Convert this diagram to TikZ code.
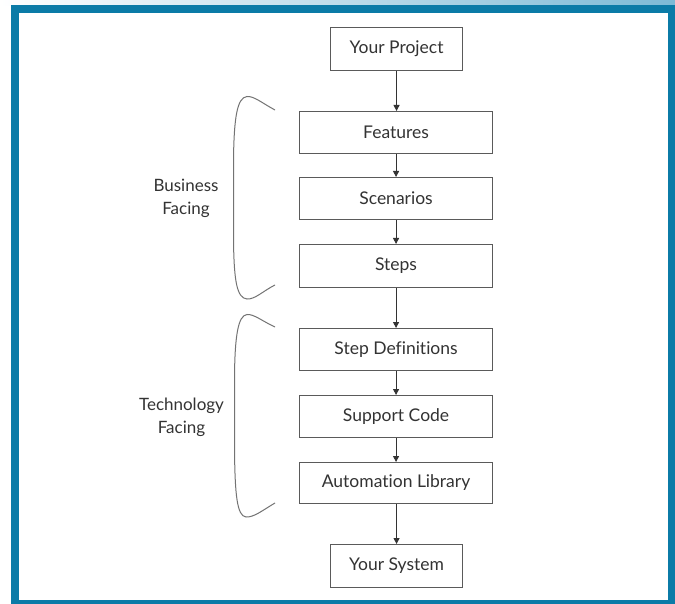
\documentclass[tikz,border=0pt]{standalone}
\usepackage{fontspec}
\setmainfont{Lato}[Ligatures={NoCommon}]
\usetikzlibrary{arrows.meta}
\definecolor{frameblue}{HTML}{0B7BA7}
\definecolor{lightblue}{HTML}{7DBAD6}
\definecolor{ink}{HTML}{333333}
\definecolor{edge}{HTML}{5A5A5A}
\tikzset{
  flowbox/.style={draw=edge, line width=1.1pt, fill=white, text=ink, font=\fontsize{17.5}{19}\selectfont, inner sep=0pt, anchor=north west},
  flowarrow/.style={draw=ink, line width=0.9pt, -{Triangle[length=6pt,width=6pt]}},
  bracecurve/.style={draw=edge!85, line width=1pt},
  sidelabel/.style={text=ink, font=\fontsize{17}{23}\selectfont, align=center}
}
\begin{document}
\begin{tikzpicture}[x=1pt,y=-1pt]
\useasboundingbox (0,0) rectangle (675,604);
% top gradient strip
\shade[left color=white, right color=lightblue] (0,0) rectangle (675,5.5);
% frame
\fill[frameblue] (11,5) rectangle (675,604);
\fill[white] (19,13) rectangle (668,600);
% boxes
\node[flowbox, minimum width=132pt, minimum height=43pt] (proj) at (330,27) {Your Project};
\node[flowbox, minimum width=193pt, minimum height=42pt] (feat) at (299,111) {Features};
\node[flowbox, minimum width=193pt, minimum height=42pt] (scen) at (299,177) {Scenarios};
\node[flowbox, minimum width=193pt, minimum height=43pt] (steps) at (299,244) {Steps};
\node[flowbox, minimum width=193pt, minimum height=42pt] (sdef) at (299,328) {Step Definitions};
\node[flowbox, minimum width=193pt, minimum height=42pt] (supp) at (299,395) {Support Code};
\node[flowbox, minimum width=193pt, minimum height=41pt] (auto) at (299,462) {Automation Library};
\node[flowbox, minimum width=132pt, minimum height=43pt] (sys) at (330,544) {Your System};
% arrows
\draw[flowarrow] (proj.south) -- (proj.south |- feat.north);
\draw[flowarrow] (feat.south) -- (scen.north);
\draw[flowarrow] (scen.south) -- (steps.north);
\draw[flowarrow] (steps.south) -- (sdef.north);
\draw[flowarrow] (sdef.south) -- (supp.north);
\draw[flowarrow] (supp.south) -- (auto.north);
\draw[flowarrow] (auto.south -| sys.north) -- (sys.north);
% braces
\draw[bracecurve] (275,110) .. controls (262,103) and (254,96) .. (247,96.5)
  .. controls (237,97.5) and (234,118) .. (233.5,160) -- (233.5,240)
  .. controls (234,282) and (237,298) .. (247,299)
  .. controls (255,299.5) and (263,291) .. (275,285);
\draw[bracecurve] (275,327) .. controls (262,321) and (254,314) .. (247,314.5)
  .. controls (238,315.5) and (235,336) .. (234.5,375) -- (234.5,450)
  .. controls (235,495) and (237,516) .. (246,517)
  .. controls (254,517.5) and (263,510) .. (275,503);
% labels
\node[sidelabel] (biz) at (186,198.5) {Business\\Facing};
\node[sidelabel] (tech) at (181.5,417.5) {Technology\\Facing};
\end{tikzpicture}
\end{document}
